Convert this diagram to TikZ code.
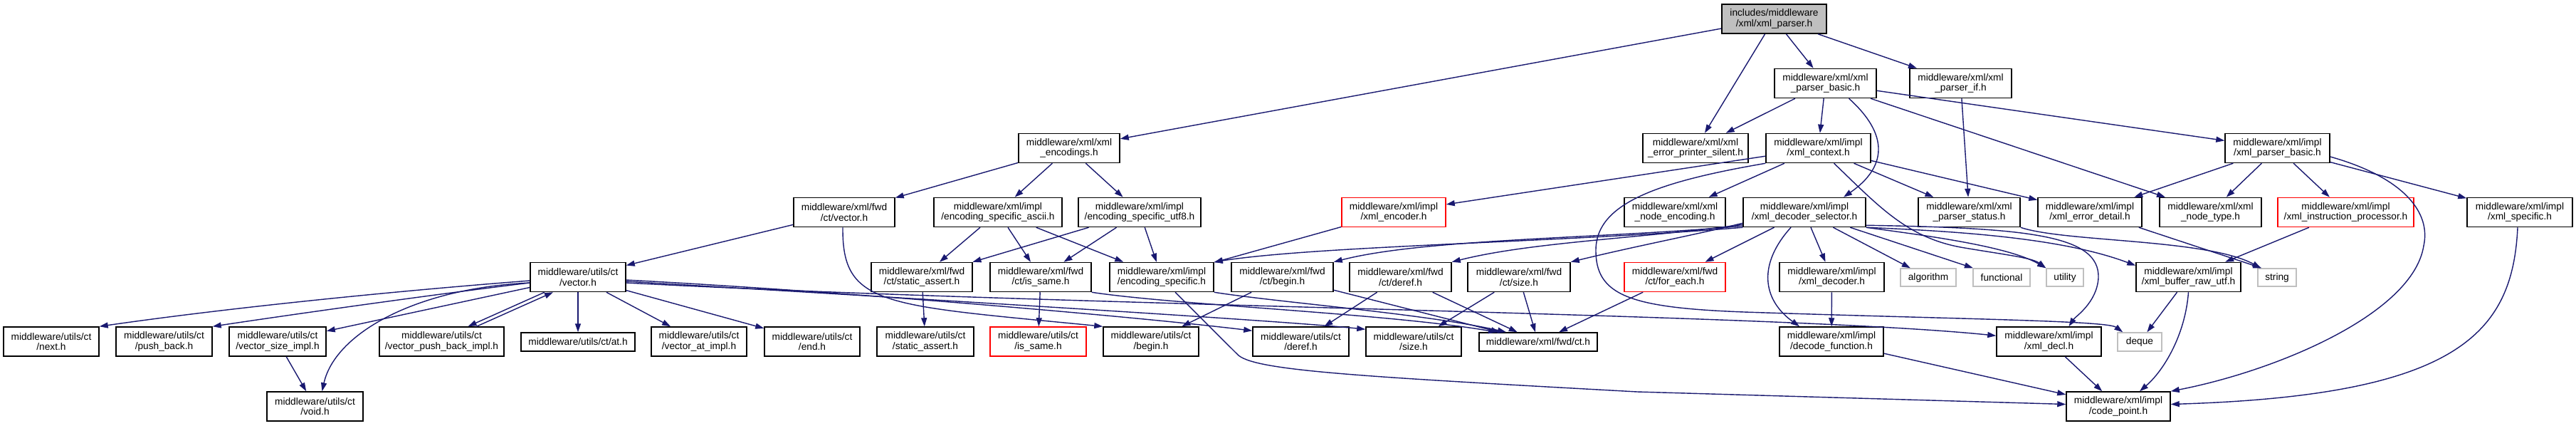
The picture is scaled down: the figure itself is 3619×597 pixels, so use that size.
\documentclass[tikz,border=0pt]{standalone}
\usepackage{fontspec}
\setmainfont{Liberation Sans}
\usetikzlibrary{arrows.meta}
\definecolor{edgec}{HTML}{191970}
\definecolor{sysgray}{HTML}{BFBFBF}
\begin{document}
\begin{tikzpicture}[x=1pt,y=-1pt,
  box/.style={draw=black, line width=1.5pt, fill=white, align=center, inner sep=0pt,
    font=\fontsize{13.7}{14.5}\selectfont, minimum height=41pt},
  redbox/.style={box, draw=red},
  sysbox/.style={box, draw=sysgray, minimum height=25pt},
  onebox/.style={box, minimum height=26pt},
  dep/.style={draw=edgec, line width=1.4pt, -{Triangle[length=12pt,width=8pt]}}]
\fill[white] (0,0) rectangle (3619,597);
\useasboundingbox (0,0) rectangle (3619,597);
% row 0
\node[box, fill=sysgray, minimum width=147pt] (root) at (2492.5,26.5) {includes/middleware\\/xml/xml\_parser.h};
% row 1
\node[box, minimum width=143pt] (pb) at (2564.5,117) {middleware/xml/xml\\\_parser\_basic.h};
\node[box, minimum width=143pt] (pif) at (2754.5,117) {middleware/xml/xml\\\_parser\_if.h};
% row 2
\node[box, minimum width=142pt] (enc) at (1502,208) {middleware/xml/xml\\\_encodings.h};
\node[box, minimum width=148pt] (eps) at (2382,208) {middleware/xml/xml\\\_error\_printer\_silent.h};
\node[box, minimum width=147pt] (ctx) at (2554.5,208) {middleware/xml/impl\\/xml\_context.h};
\node[box, minimum width=147pt] (ipb) at (3199.5,208) {middleware/xml/impl\\/xml\_parser\_basic.h};
% row 3
\node[box, minimum width=142pt] (fvec) at (1186,298) {middleware/xml/fwd\\/ct/vector.h};
\node[box, minimum width=180pt] (ascii) at (1402,298) {middleware/xml/impl\\/encoding\_specific\_ascii.h};
\node[box, minimum width=172pt] (utf8) at (1601,298) {middleware/xml/impl\\/encoding\_specific\_utf8.h};
\node[redbox, minimum width=146pt] (encdr) at (1958,298) {middleware/xml/impl\\/xml\_encoder.h};
\node[box, minimum width=142pt] (nenc) at (2353,298) {middleware/xml/xml\\\_node\_encoding.h};
\node[box, minimum width=172pt] (dsel) at (2535,298) {middleware/xml/impl\\/xml\_decoder\_selector.h};
\node[box, minimum width=143pt] (pstat) at (2766.5,298) {middleware/xml/xml\\\_parser\_status.h};
\node[box, minimum width=146pt] (edet) at (2936,298) {middleware/xml/impl\\/xml\_error\_detail.h};
\node[box, minimum width=143pt] (ntype) at (3105.5,298) {middleware/xml/xml\\\_node\_type.h};
\node[redbox, minimum width=191pt] (iproc) at (3295.5,298) {middleware/xml/impl\\/xml\_instruction\_processor.h};
\node[box, minimum width=148pt] (spec) at (3540,298) {middleware/xml/impl\\/xml\_specific.h};
% row 4
\node[box, minimum width=134pt] (uvec) at (812,389) {middleware/utils/ct\\/vector.h};
\node[box, minimum width=142pt] (fsa) at (1295,389) {middleware/xml/fwd\\/ct/static\_assert.h};
\node[box, minimum width=142pt] (fis) at (1462,389) {middleware/xml/fwd\\/ct/is\_same.h};
\node[box, minimum width=146pt] (espec) at (1632,389) {middleware/xml/impl\\/encoding\_specific.h};
\node[box, minimum width=143pt] (fbeg) at (1801.5,389) {middleware/xml/fwd\\/ct/begin.h};
\node[box, minimum width=143pt] (fder) at (1967.5,389) {middleware/xml/fwd\\/ct/deref.h};
\node[box, minimum width=144pt] (fsize) at (2134,389) {middleware/xml/fwd\\/ct/size.h};
\node[redbox, minimum width=142pt] (fea) at (2353,389) {middleware/xml/fwd\\/ct/for\_each.h};
\node[box, minimum width=147pt] (dec) at (2573.5,389) {middleware/xml/impl\\/xml\_decoder.h};
\node[sysbox, minimum width=78pt] (alg) at (2709,389.5) {algorithm};
\node[sysbox, minimum width=80pt] (func) at (2812,389.5) {functional};
\node[sysbox, minimum width=52pt] (util) at (2901,389.5) {utility};
\node[box, minimum width=147pt] (buf) at (3074.5,389) {middleware/xml/impl\\/xml\_buffer\_raw\_utf.h};
\node[sysbox, minimum width=54pt] (str) at (3199,389.5) {string};
% row 5
\node[box, minimum width=134pt] (next) at (72,479.5) {middleware/utils/ct\\/next.h};
\node[box, minimum width=135pt] (pushb) at (230.5,479.5) {middleware/utils/ct\\/push\_back.h};
\node[box, minimum width=136pt] (vsi) at (390,479.5) {middleware/utils/ct\\/vector\_size\_impl.h};
\node[box, minimum width=175pt] (vpbi) at (620.5,479.5) {middleware/utils/ct\\/vector\_push\_back\_impl.h};
\node[onebox, minimum width=160pt] (ath) at (812,480) {middleware/utils/ct/at.h};
\node[box, minimum width=134pt] (vai) at (982,479.5) {middleware/utils/ct\\/vector\_at\_impl.h};
\node[box, minimum width=134pt] (endh) at (1141,479.5) {middleware/utils/ct\\/end.h};
\node[box, minimum width=136pt] (usa) at (1300,479.5) {middleware/utils/ct\\/static\_assert.h};
\node[redbox, minimum width=135pt] (uis) at (1458.5,479.5) {middleware/utils/ct\\/is\_same.h};
\node[box, minimum width=134pt] (ubeg) at (1617,479.5) {middleware/utils/ct\\/begin.h};
\node[box, minimum width=135pt] (uder) at (1827.5,479.5) {middleware/utils/ct\\/deref.h};
\node[box, minimum width=134pt] (usize) at (1986,479.5) {middleware/utils/ct\\/size.h};
\node[onebox, minimum width=166pt] (fct) at (2161,480) {middleware/xml/fwd/ct.h};
\node[box, minimum width=146pt] (dfun) at (2573,479.5) {middleware/xml/impl\\/decode\_function.h};
\node[box, minimum width=147pt] (decl) at (2878.5,479.5) {middleware/xml/impl\\/xml\_decl.h};
\node[sysbox, minimum width=62pt, minimum height=26pt] (deque) at (3006,480) {deque};
% row 6
\node[box, minimum width=135pt] (void) at (442.5,570.5) {middleware/utils/ct\\/void.h};
\node[box, minimum width=146pt] (cp) at (2976,570.5) {middleware/xml/impl\\/code\_point.h};

% ---- edges ----
\draw[dep] (root) -- (enc);
\draw[dep] (root) -- (eps);
\draw[dep] (root) -- (pb);
\draw[dep] (root) -- (pif);
\draw[dep] (pb) -- (eps);
\draw[dep] (pb) -- (ctx);
\draw[dep] ([xshift=33pt]pb.south) .. controls (2655,190) and (2650,235) .. ([xshift=55pt]dsel.north);
\draw[dep] (pb) -- (ntype);
\draw[dep] (pb) -- (ipb);
\draw[dep] (pif) -- (pstat);
\draw[dep] (enc) -- (fvec);
\draw[dep] (enc) -- (ascii);
\draw[dep] (enc) -- (utf8);
\draw[dep] (fvec) -- (uvec);
\draw[dep] ([xshift=-2pt]fvec.south) .. controls (1183,430) and (1240,428) .. (ubeg.north west);
\draw[dep] (ascii) -- (fsa);
\draw[dep] (ascii) -- (fis);
\draw[dep] (ascii) -- (espec);
\draw[dep] (utf8) -- (fsa);
\draw[dep] (utf8) -- (fis);
\draw[dep] (utf8) -- (espec);
\draw[dep] (fsa) -- (usa);
\draw[dep] (fis) -- (uis);
\draw[dep] (fis.south east) .. controls (1650,428) and (1950,440) .. ([xshift=-58pt]fct.north);
\draw[dep] (encdr) -- (espec);
\draw[dep] (espec.south east) .. controls (1800,425) and (2000,440) .. ([xshift=-45pt]fct.north);
\draw[dep] ([xshift=19pt]espec.south) -- (1738,497) .. controls (1758,520) and (1900,528) .. (2300,550) -- ([yshift=3pt]cp.west);
\draw[dep] (fbeg) -- (ubeg);
\draw[dep] (fbeg) -- (fct);
\draw[dep] (fder) -- (uder);
\draw[dep] (fder) -- (fct);
\draw[dep] (fsize) -- (usize);
\draw[dep] (fsize) -- (fct);
\draw[dep] (fea) -- (fct);
% ctx
\draw[dep] (ctx) -- (encdr);
\draw[dep] (ctx.south west) .. controls (2330,255) and (2243,285) .. (2242,350) .. controls (2241,415) and (2290,432) .. (2450,438) .. controls (2750,448) and (2960,450) .. ([xshift=8pt]deque.north west);
\draw[dep] (ctx) -- (nenc);
\draw[dep] ([xshift=22pt]ctx.south) .. controls (2640,290) and (2680,335) .. (2760,348) .. controls (2820,358) and (2855,362) .. (util.north west);
\draw[dep] (ctx) -- (pstat);
\draw[dep] (ctx) -- (edet);
% dsel
\draw[dep] (dsel.south west) .. controls (2200,340) and (1850,345) .. (espec.north east);
\draw[dep] ([yshift=2pt]dsel.south west) .. controls (2250,335) and (2000,335) .. (fbeg.north east);
\draw[dep] ([yshift=4pt]dsel.south west) .. controls (2300,335) and (2150,340) .. (fder.north east);
\draw[dep] ([yshift=6pt]dsel.south west) .. controls (2380,330) and (2300,345) .. (fsize.north east);
\draw[dep] (dsel) -- (fea);
\draw[dep] ([xshift=-19pt]dsel.south) .. controls (2470,370) and (2475,420) .. ([xshift=-45pt]dfun.north);
\draw[dep] (dsel) -- (dec);
\draw[dep] (dsel) -- (alg);
\draw[dep] (dsel) -- (func);
\draw[dep] (dsel.south east) .. controls (2700,330) and (2820,345) .. (util.north west);
\draw[dep] (dsel.south east) .. controls (2760,325) and (2900,335) .. ([yshift=-5pt]buf.north west);
\draw[dep] ([yshift=3pt]dsel.south east) .. controls (2850,320) and (2950,330) .. (2948,390) .. controls (2946,425) and (2915,445) .. ([xshift=28pt]decl.north);
\draw[dep] (dec) -- (dfun);
% ipb
\draw[dep] (ipb) -- (edet);
\draw[dep] (ipb) -- (ntype);
\draw[dep] (ipb) -- (iproc);
\draw[dep] (ipb) -- (spec);
\draw[dep] ([yshift=-12pt]ipb.east) .. controls (3380,250) and (3415,300) .. (3405,345) .. controls (3390,440) and (3200,520) .. (cp.north east);
\draw[dep] (iproc) -- (buf);
\draw[dep] ([xshift=-3pt]spec.south) .. controls (3530,470) and (3450,555) .. ([yshift=3pt]cp.east);
\draw[dep] (pstat.south east) .. controls (2900,340) and (3100,335) .. ([xshift=5pt]str.north west);
\draw[dep] ([xshift=-5pt]edet.south east) -- ([xshift=6pt]str.north west);
\draw[dep] (buf) -- (deque);
\draw[dep] (buf.south) .. controls (3070,470) and (3040,520) .. ([xshift=30pt]cp.north);
\draw[dep] (dfun) -- (cp);
\draw[dep] (decl) -- (cp);
% uvec
\draw[dep] ([yshift=-5pt]uvec.west) .. controls (600,405) and (350,428) .. (next.north east);
\draw[dep] ([yshift=-8pt]uvec.west) .. controls (620,412) and (420,440) .. (pushb.north east);
\draw[dep] (uvec) -- (vsi);
\draw[dep] ([yshift=-8pt]uvec.west) .. controls (580,405) and (470,470) .. ([xshift=10pt]void.north);
\draw[dep] ([xshift=-47pt]uvec.south) -- ([xshift=37pt]vpbi.north);
\draw[dep] ([xshift=49pt]vpbi.north) -- ([xshift=-35pt]uvec.south);
\draw[dep] (uvec) -- (ath);
\draw[dep] (uvec) -- (vai);
\draw[dep] (uvec) -- (endh);
\draw[dep] (vsi) -- (void);
\draw[dep] ([yshift=-4pt]uvec.east) .. controls (1200,410) and (1600,445) .. ([yshift=-6pt]uder.north west);
\draw[dep] ([yshift=-6pt]uvec.east) .. controls (1300,420) and (1800,450) .. ([yshift=-4pt]usize.north west);
\draw[dep] ([yshift=-8pt]uvec.east) .. controls (1500,430) and (2500,440) .. ([yshift=-13pt]decl.north west);
\end{tikzpicture}
\end{document}
